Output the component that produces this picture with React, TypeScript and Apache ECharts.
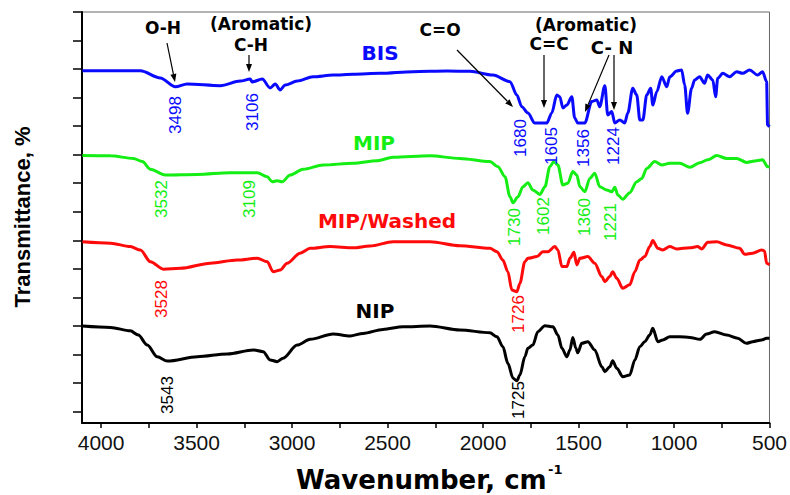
import React, { useEffect, useRef } from "react";
import * as echarts from "echarts";

// ---- axis ticks ----
const xTickValues = [500, 750, 1000, 1250, 1500, 1750, 2000, 2250, 2500, 2750, 3000, 3250, 3500, 3750, 4000];
const xLabelValues = [500, 1000, 1500, 2000, 2500, 3000, 3500, 4000];
const yTickValues = [4, 14, 24, 34, 44, 54, 64, 74, 84, 94, 104, 114, 124, 134, 144];

// ---- BIS ----
const bisWn = [4098,3794,3690,3611,3549,3376,3271,3219,3209,3156,3115,3088,3062,3036,2973,2890,2785,2680,2539,2367,2189,2069,1948,1859,1823,1797,1765,1729,1666,1640,1614,1598,1582,1561,1535,1520,1504,1467,1431,1404,1389,1362,1347,1326,1310,1284,1258,1242,1216,1195,1179,1163,1143,1122,1111,1090,1064,1038,1022,986,960,944,929,908,892,866,840,824,797,782,771,745,709,672,641,604,562,536,515,510,500];
const bisT = [123.4,123.4,120.9,117.8,118.8,118.2,119.8,120.5,119.5,120.5,117.4,118.8,116.7,118.4,119.8,121.3,121.9,122.2,122.5,123.1,123.3,123.2,121.9,119.6,114.9,110.8,108.6,105.1,105.1,108.6,114.9,114.3,110.4,111.4,114.3,106.9,105.1,105.1,112.6,113.2,110.8,118.2,107.9,109.1,105.1,106.2,105.1,108.6,117.3,114.9,106.2,106.2,114.9,117.3,111.4,116.1,121.3,117.8,121.3,123.3,123.7,118.4,108.5,117.3,120.2,121.3,119.0,121.9,120.2,114.3,120.8,122.5,121.3,123.1,122.5,123.7,121.9,123.1,119.6,104.4,103.8];

// ---- MIP ----
const mipWn = [4098,3951,3831,3784,3742,3664,3496,3324,3182,3130,3104,3078,3052,3010,2942,2837,2680,2555,2471,2278,2121,1964,1922,1885,1859,1843,1817,1791,1765,1739,1702,1676,1650,1629,1608,1582,1556,1530,1509,1493,1467,1441,1415,1389,1352,1326,1310,1294,1268,1232,1195,1169,1143,1101,1064,1022,970,917,865,823,776,724,672,620,567,536,510,500];
const mipT = [93.7,93.6,92.7,91.6,88.9,86.9,87.1,87.7,87.7,86.3,84.5,84.9,84.5,86.9,88.9,90.4,91.0,91.9,93.1,93.6,92.7,91.6,89.8,86.3,79.3,77.2,79.3,82.8,84.2,81.6,80.1,82.8,89.8,91.6,90.4,83.4,84.0,88.1,86.9,82.8,81.0,85.7,87.5,82.8,81.6,81.0,82.6,79.9,78.4,80.7,84.5,85.7,89.2,91.6,90.4,91.0,91.0,89.6,91.2,92.2,93.7,92.7,92.7,91.3,91.9,92.2,89.8,89.8];

// ---- MIP/Washed ----
const washedWn = [4098,3951,3847,3794,3742,3674,3585,3428,3287,3182,3130,3099,3062,3026,2958,2905,2801,2680,2592,2471,2278,2121,1964,1927,1896,1870,1849,1823,1807,1781,1765,1718,1687,1661,1624,1608,1587,1561,1545,1524,1509,1493,1451,1415,1378,1362,1336,1321,1300,1268,1232,1205,1179,1153,1127,1111,1085,1059,1022,986,917,876,855,823,776,724,656,630,588,541,526,515,500];
const washedT = [63.5,63.0,61.8,60.6,56.5,53.9,54.2,56.0,57.1,57.7,56.5,53.0,53.6,56.0,59.5,61.2,61.8,61.4,62.0,63.5,63.5,62.1,61.2,60.0,57.1,53.0,46.6,46.0,48.9,56.5,57.7,58.3,60.0,60.0,61.8,60.6,54.8,54.8,57.7,59.8,55.4,57.7,58.3,56.0,51.3,49.5,51.3,53.0,50.7,47.2,48.4,53.0,57.1,58.3,61.8,63.9,61.2,60.6,61.8,61.0,61.4,61.8,61.0,63.3,63.5,62.4,61.2,59.1,59.5,60.6,60.3,56.0,55.4];

// ---- NIP ----
const nipWn = [4098,3951,3847,3805,3758,3706,3653,3496,3339,3203,3151,3115,3078,3047,2973,2905,2785,2696,2628,2524,2419,2278,2121,1964,1927,1896,1870,1843,1823,1807,1781,1765,1739,1713,1676,1634,1608,1587,1561,1545,1530,1514,1504,1483,1451,1415,1378,1362,1336,1321,1300,1268,1232,1205,1179,1153,1127,1111,1085,1059,1022,970,917,865,829,787,724,667,620,588,541,515,500];
const nipT = [34.0,33.5,32.3,30.8,27.3,23.2,21.7,23.2,24.2,25.6,25.0,22.1,21.5,22.7,27.3,29.3,31.2,30.5,31.4,32.8,33.7,34.0,32.6,31.6,30.2,26.7,20.9,15.7,14.8,16.8,23.2,26.2,27.3,32.0,34.1,33.7,30.8,26.2,23.2,25.6,30.0,26.2,24.6,27.9,28.5,25.6,19.7,18.0,19.7,21.8,19.2,16.2,16.8,22.1,26.7,28.5,30.8,33.2,28.5,29.1,30.2,30.2,30.0,29.3,31.2,32.0,30.8,29.7,27.9,28.5,29.1,29.7,29.7];

// ---- texts ----
const seriesNames = ["BIS", "MIP", "MIP/Washed", "NIP"];
const bisPeaks = ["3498", "3106", "1680", "1605", "1356", "1224"];
const mipPeaks = ["3532", "3109", "1730", "1602", "1360", "1221"];
const washedPeaks = ["3528", "1726"];
const nipPeaks = ["3543", "1725"];
const groupLabels = ["O-H", "(Aromatic)", "C-H", "C=O", "(Aromatic)", "C=C", "C- N"];

const BLUE = "#0a0aff";
const GREEN = "#14ee14";
const RED = "#ff0a0a";
const BLACK = "#000000";

const zip = (a: number[], b: number[]) => a.map((w, i) => [w, b[i]]);

function txt(text: string, x: number, y: number, fill: string, size: number, weight: string, family: string, rotate = false) {
  return {
    type: "text",
    x,
    y,
    rotation: rotate ? Math.PI / 2 : 0,
    z: 100,
    style: {
      text,
      fill,
      fontSize: size,
      fontWeight: weight,
      fontFamily: family,
      align: "center",
      verticalAlign: "middle",
      textAlign: "center",
      textVerticalAlign: "middle",
    },
  };
}

function arrow(x1: number, y1: number, x2: number, y2: number) {
  const a = Math.atan2(y2 - y1, x2 - x1);
  const L = 8, W = 3;
  const c = Math.cos(a), s = Math.sin(a);
  const bx = x2 - L * c, by = y2 - L * s;
  return [
    { type: "line", z: 100, shape: { x1, y1, x2: bx, y2: by }, style: { stroke: "#000", lineWidth: 1.2 } },
    {
      type: "polygon",
      z: 100,
      shape: { points: [[x2, y2], [bx + W * s, by - W * c], [bx - W * s, by + W * c]] },
      style: { fill: "#000" },
    },
  ];
}

export default function App() {
  const ref = useRef<HTMLDivElement>(null);
  useEffect(() => {
    const chart = echarts.init(ref.current!, null, { renderer: "svg" });
    const BOLD = "DejaVu Sans";
    const AR = "Liberation Sans, Arial, sans-serif";
    const graphics: any[] = [
      // series names
      txt(seriesNames[0], 380, 53, BLUE, 20, "bold", BOLD),
      txt(seriesNames[1], 374, 143, GREEN, 20, "bold", BOLD),
      txt(seriesNames[2], 387, 221, RED, 20, "bold", BOLD),
      txt(seriesNames[3], 375, 311, BLACK, 20, "bold", BOLD),
      // group labels
      txt(groupLabels[0], 163, 28, BLACK, 17, "bold", BOLD),
      txt(groupLabels[1], 261, 24, BLACK, 17, "bold", BOLD),
      txt(groupLabels[2], 251, 45, BLACK, 17, "bold", BOLD),
      txt(groupLabels[3], 440, 30, BLACK, 17, "bold", BOLD),
      txt(groupLabels[4], 586, 25, BLACK, 17, "bold", BOLD),
      txt(groupLabels[5], 549, 44, BLACK, 17, "bold", BOLD),
      txt(groupLabels[6], 612, 47, BLACK, 18, "bold", BOLD),
      // peak labels BIS
      txt(bisPeaks[0], 175, 115, BLUE, 17, "normal", AR, true),
      txt(bisPeaks[1], 252, 112, BLUE, 17, "normal", AR, true),
      txt(bisPeaks[2], 520, 138, BLUE, 17, "normal", AR, true),
      txt(bisPeaks[3], 551, 146, BLUE, 17, "normal", AR, true),
      txt(bisPeaks[4], 583, 148, BLUE, 17, "normal", AR, true),
      txt(bisPeaks[5], 613, 146, BLUE, 17, "normal", AR, true),
      // MIP
      txt(mipPeaks[0], 161, 199, GREEN, 17, "normal", AR, true),
      txt(mipPeaks[1], 249, 199, GREEN, 17, "normal", AR, true),
      txt(mipPeaks[2], 514, 227, GREEN, 17, "normal", AR, true),
      txt(mipPeaks[3], 543, 216, GREEN, 17, "normal", AR, true),
      txt(mipPeaks[4], 584, 217, GREEN, 17, "normal", AR, true),
      txt(mipPeaks[5], 610, 222, GREEN, 17, "normal", AR, true),
      // Washed
      txt(washedPeaks[0], 161, 299, RED, 17, "normal", AR, true),
      txt(washedPeaks[1], 518, 314, RED, 17, "normal", AR, true),
      // NIP
      txt(nipPeaks[0], 167, 395, BLACK, 17, "normal", AR, true),
      txt(nipPeaks[1], 518, 400, BLACK, 17, "normal", AR, true),
      // axis titles
      txt("Transmittance, %", 22, 217, BLACK, 22, "bold", AR, true),
      {
        type: "text",
        x: 296,
        y: 480,
        z: 100,
        style: {
          text: "Wavenumber, cm",
          fill: BLACK,
          fontSize: 26,
          fontWeight: "bold",
          fontFamily: BOLD,
          align: "left",
          verticalAlign: "middle",
          textAlign: "left",
          textVerticalAlign: "middle",
        },
      },
      {
        type: "text",
        x: 548,
        y: 469,
        z: 100,
        style: {
          text: "-1",
          fill: BLACK,
          fontSize: 13,
          fontWeight: "bold",
          fontFamily: BOLD,
          align: "left",
          verticalAlign: "middle",
          textAlign: "left",
          textVerticalAlign: "middle",
        },
      },
      ...arrow(167, 43, 175, 82),
      ...arrow(249, 55, 249, 72),
      ...arrow(457, 50, 513, 107),
      ...arrow(544, 55, 544, 108),
      ...arrow(609, 55, 585, 112),
      ...arrow(614, 55, 614, 110),
    ];

    const mk = (name: string, data: number[][], color: string) => ({
      name,
      type: "line",
      data,
      showSymbol: false,
      smooth: 0.3,
      smoothMonotone: "x",
      lineStyle: { color, width: 3 },
      itemStyle: { color },
      z: 3,
    });

    const option: any = {
      animation: false,
      backgroundColor: "#ffffff",
      grid: {
        left: 82,
        right: 20,
        top: 12,
        bottom: 72,
        show: true,
        borderColor: "#666",
        borderWidth: 1,
        backgroundColor: "transparent",
      },
      xAxis: {
        type: "value",
        min: 500,
        max: 4100,
        inverse: true,
        splitLine: { show: false },
        axisLine: { show: true, onZero: false, lineStyle: { color: "#000", width: 2 } },
        axisTick: { show: true, inside: false, length: 5, lineStyle: { color: "#000", width: 1.5 }, customValues: xTickValues },
        axisLabel: {
          show: true,
          margin: 9,
          color: "#111",
          fontSize: 21,
          fontFamily: AR,
          customValues: xLabelValues,
          formatter: (v: number) => String(v),
        },
      },
      yAxis: {
        type: "value",
        min: 0,
        max: 144,
        splitLine: { show: false },
        axisLine: { show: true, onZero: false, lineStyle: { color: "#000", width: 2 } },
        axisTick: { show: true, inside: false, length: 9, lineStyle: { color: "#000", width: 1.5 }, customValues: yTickValues },
        axisLabel: { show: false },
      },
      series: [
        mk(seriesNames[0], zip(bisWn, bisT), BLUE),
        mk(seriesNames[1], zip(mipWn, mipT), GREEN),
        mk(seriesNames[2], zip(washedWn, washedT), RED),
        mk(seriesNames[3], zip(nipWn, nipT), BLACK),
      ],
      graphic: graphics,
    };
    chart.setOption(option);
    return () => chart.dispose();
  }, []);
  return <div ref={ref} style={{ position: "absolute", left: 0, top: 0, width: 790, height: 495 }} />;
}
